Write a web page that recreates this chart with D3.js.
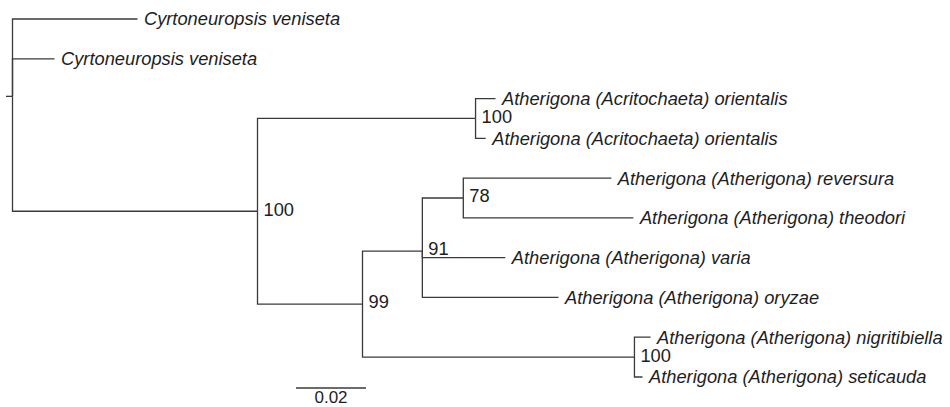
<!DOCTYPE html>
<html>
<head>
<meta charset="utf-8">
<script src="https://cdn.jsdelivr.net/npm/d3@7"></script>
<style>
  body { margin: 0; background: #fff; }
  svg { display: block; }
</style>
</head>
<body>
<div id="tree"></div>
<script>
// tree topology, one entry per node (children in drawing order)
var nodeIds = ["root", "cyr1", "cyr2", "nA", "acr", "acr1", "acr2", "n99", "n91", "n78",
               "rev", "theo", "varia", "ory", "nig", "nig1", "seti"];
var parentIds = ["", "root", "root", "root", "nA", "acr", "acr", "nA", "n99", "n91", "n78",
                 "n78", "n91", "n91", "n99", "nig", "nig"];
// branch lengths (substitutions per site)
var branchLengths = [0, 0.0357, 0.0120, 0.0700, 0.0623, 0.0057, 0.0029, 0.0300, 0.0171, 0.0117,
                     0.0423, 0.0486, 0.0237, 0.0389, 0.0777, 0.0046, 0.0023];
var tipLabels = ["", "Cyrtoneuropsis veniseta", "Cyrtoneuropsis veniseta", "", "",
                 "Atherigona (Acritochaeta) orientalis", "Atherigona (Acritochaeta) orientalis",
                 "", "", "", "Atherigona (Atherigona) reversura", "Atherigona (Atherigona) theodori",
                 "Atherigona (Atherigona) varia", "Atherigona (Atherigona) oryzae", "",
                 "Atherigona (Atherigona) nigritibiella", "Atherigona (Atherigona) seticauda"];
var supportValues = ["", "", "", "100", "100", "", "", "99", "91", "78", "", "", "", "", "100", "", ""];
var scaleBarValue = 0.02;
var scaleBarLabel = "0.02";

var svgWidth = 950, svgHeight = 407;
var fontFamily = "'Liberation Sans', Arial, Helvetica, sans-serif";

var svg = d3.select("#tree").append("svg")
    .attr("width", svgWidth)
    .attr("height", svgHeight);

// build the table for stratify
var table = nodeIds.map(function(id, i) {
    return { id: id, parent: parentIds[i] || null, len: branchLengths[i],
             label: tipLabels[i], support: supportValues[i] };
});
var root = d3.stratify().id(d => d.id).parentId(d => d.parent)(table);

// cumulative distance from root
root.each(function(n) {
    n.dist = n.parent ? n.parent.dist + n.data.len : 0;
});

var leaves = root.leaves();
var xScale = d3.scaleLinear().domain([0, 0.02]).range([12.5, 82.5]);
var yScale = d3.scaleLinear().domain([0, leaves.length - 1]).range([19, 377]);

leaves.forEach(function(l, i) { l.y = yScale(i); });
root.eachAfter(function(n) {
    if (n.children) n.y = d3.mean(n.children, c => c.y);
    n.x = xScale(n.dist);
});

var lineColor = "#3a3a3a";
var textColor = "#1e1e1e";

// elbow branches
svg.append("g")
    .selectAll("path")
    .data(root.links())
    .enter()
    .append("path")
    .attr("d", d => `M${d.source.x},${d.source.y}V${d.target.y}H${d.target.x}`)
    .attr("fill", "none")
    .attr("stroke", lineColor)
    .attr("stroke-width", 1.3);

// root stub
svg.append("line")
    .attr("x1", root.x - 6.5).attr("x2", root.x)
    .attr("y1", root.y).attr("y2", root.y)
    .attr("stroke", lineColor)
    .attr("stroke-width", 1.3);

// tip labels
svg.append("g")
    .selectAll("text")
    .data(leaves)
    .enter()
    .append("text")
    .attr("x", d => d.x + 6.5)
    .attr("y", d => d.y)
    .attr("dy", "0.35em")
    .attr("font-family", fontFamily)
    .attr("font-style", "italic")
    .attr("font-size", "18.3px")
    .attr("fill", textColor)
    .text(d => d.data.label);

// support values
svg.append("g")
    .selectAll("text")
    .data(root.descendants().filter(d => d.data.support))
    .enter()
    .append("text")
    .attr("x", d => d.x + 6)
    .attr("y", d => d.y - 2)
    .attr("dy", "0.35em")
    .attr("font-family", fontFamily)
    .attr("font-size", "18.3px")
    .attr("fill", textColor)
    .text(d => d.data.support);

// scale bar
var barX = 296, barY = 388;
svg.append("line")
    .attr("x1", barX)
    .attr("x2", barX + xScale(scaleBarValue) - xScale(0))
    .attr("y1", barY).attr("y2", barY)
    .attr("stroke", lineColor)
    .attr("stroke-width", 1.3);

svg.append("text")
    .attr("x", barX + (xScale(scaleBarValue) - xScale(0)) / 2)
    .attr("y", 403)
    .attr("text-anchor", "middle")
    .attr("font-family", fontFamily)
    .attr("font-size", "17px")
    .attr("fill", textColor)
    .text(scaleBarLabel);
</script>
</body>
</html>
